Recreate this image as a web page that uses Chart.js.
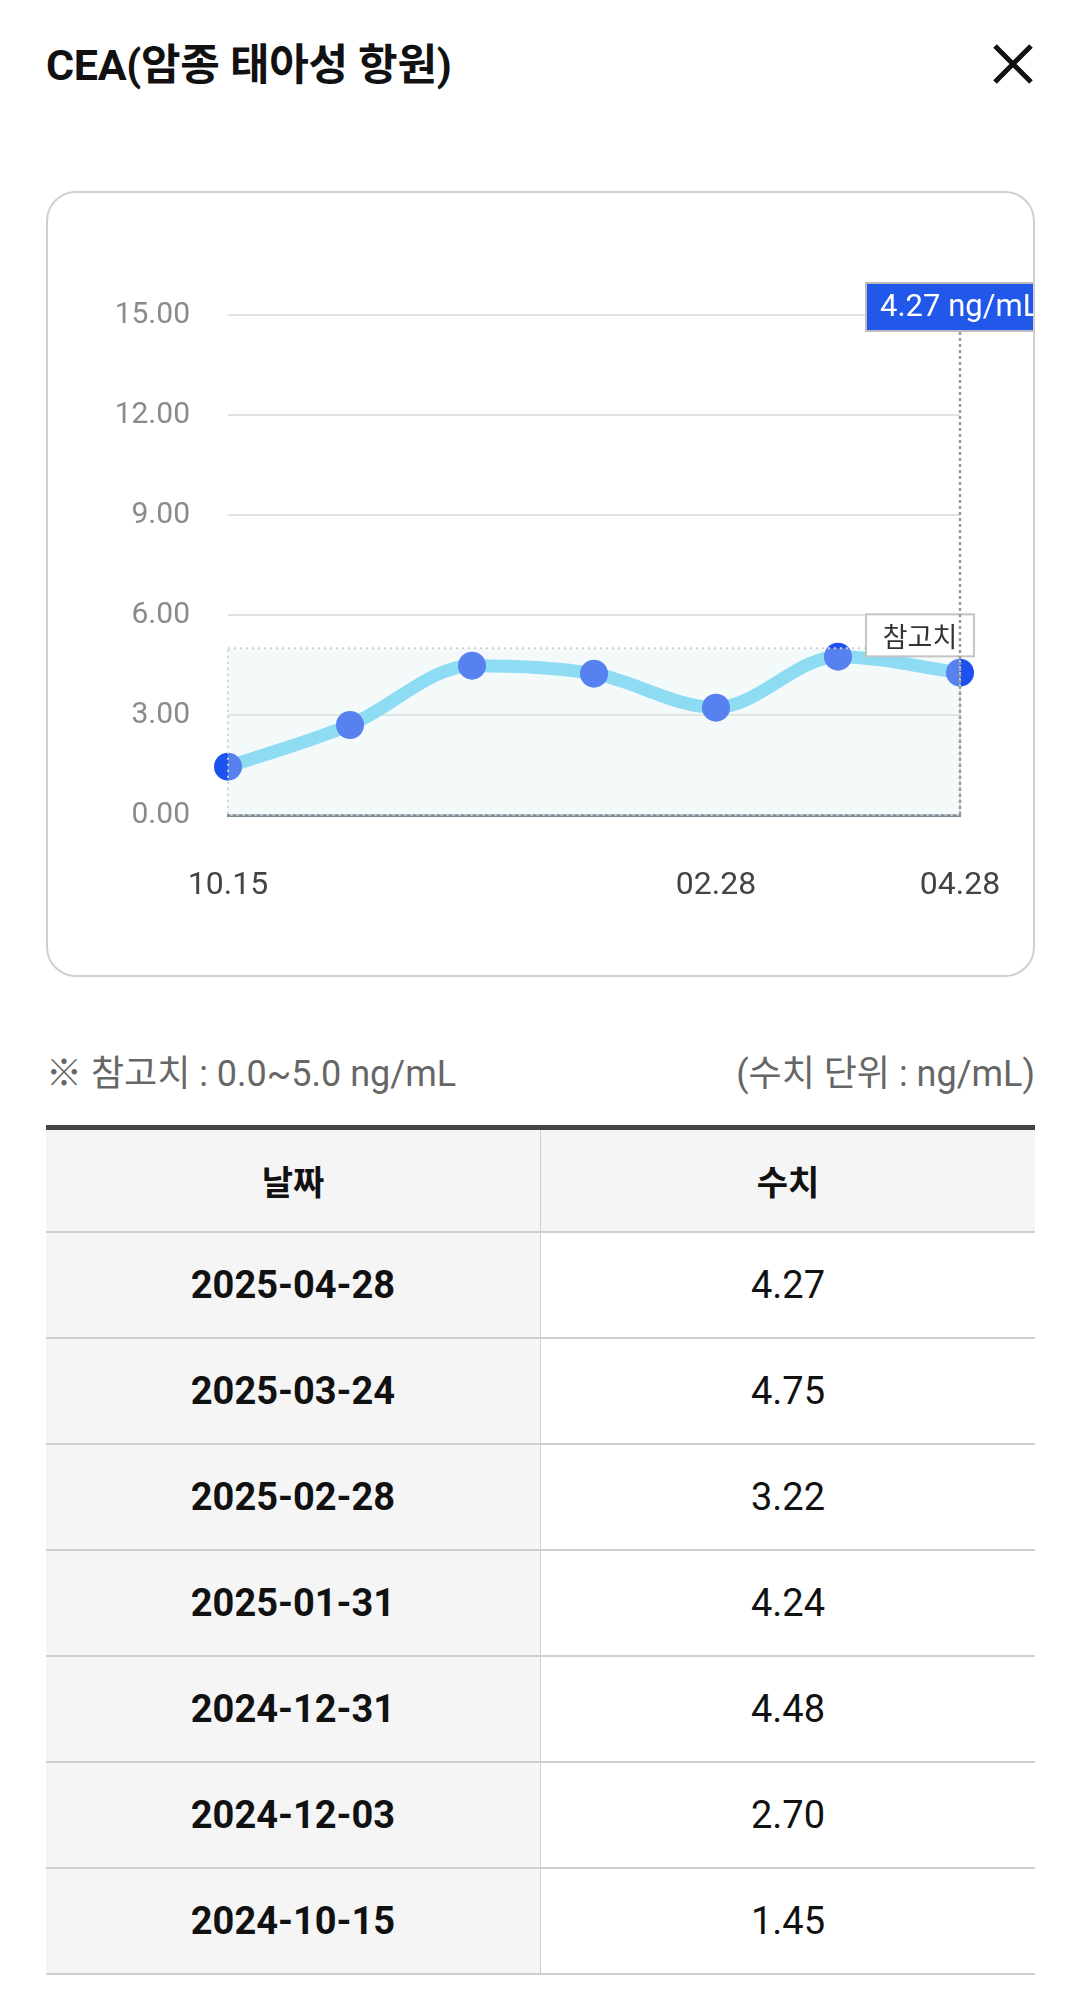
<!DOCTYPE html>
<html lang="ko">
<head>
<meta charset="utf-8">
<script src="https://cdn.jsdelivr.net/npm/chart.js@4.4.1/dist/chart.umd.min.js"></script>
<style>
  html, body { margin: 0; padding: 0; background: #fff; }
  body {
    width: 1080px; height: 1999px; position: relative; overflow: hidden;
    font-family: Roboto, "Noto Sans CJK KR", sans-serif; color: #111;
  }
  .title {
    position: absolute; left: 46px; top: 38px; margin: 0;
    font-size: 43px; font-weight: 700; line-height: 54px; letter-spacing: -0.3px;
  }
  .close { position: absolute; left: 992px; top: 43px; width: 42px; height: 42px; }
  .card {
    position: absolute; left: 46px; top: 191px; width: 989px; height: 786px;
    box-sizing: border-box; border: 2px solid #cfcfcf; border-radius: 30px; overflow: hidden;
  }
  .card canvas { position: absolute; left: 0; top: 0; }
  .note {
    position: absolute; left: 46px; right: 45px; top: 1051px;
    display: flex; justify-content: space-between;
    font-size: 36px; line-height: 46px; color: #666;
  }
  table {
    position: absolute; left: 46px; top: 1125px; width: 989px;
    border-collapse: collapse; table-layout: fixed; border-top: 5px solid #444;
  }
  th, td { text-align: center; border-bottom: 2px solid #cfcfcf; padding: 0; }
  th { height: 101px; background: #f5f5f5; font-size: 34px; font-weight: 700; }
  td { height: 104px; font-size: 38px; }
  td.d { background: #f5f5f5; font-weight: 700; }
  th:first-child, td:first-child { border-right: 1px solid #cfcfcf; }
</style>
</head>
<body>
<h1 class="title">CEA(암종 태아성 항원)</h1>
<svg class="close" viewBox="0 0 42 42"><path d="M3 3 L39 39 M39 3 L3 39" stroke="#111" stroke-width="5" fill="none"/></svg>

<div class="card">
  <canvas id="cea-chart" width="985" height="782" style="width:985px;height:782px"></canvas>
</div>

<div class="note"><span>※ 참고치 : 0.0~5.0 ng/mL</span><span>(수치 단위 : ng/mL)</span></div>

<table id="result-table">
  <thead><tr><th>날짜</th><th>수치</th></tr></thead>
  <tbody></tbody>
</table>

<script>
// test dates, oldest first (as plotted)
const dates = ['2024-10-15', '2024-12-03', '2024-12-31', '2025-01-31', '2025-02-28', '2025-03-24', '2025-04-28'];
const labels = ['10.15', '12.03', '12.31', '01.31', '02.28', '03.24', '04.28'];
const values = [1.45, 2.70, 4.48, 4.24, 3.22, 4.75, 4.27];
const shownTicks = ['10.15', '02.28', '04.28'];
const yTicks = [0, 3, 6, 9, 12, 15];
const refRange = [0.0, 5.0];
const unit = 'ng/mL';

// table (newest first)
const tbody = document.querySelector('#result-table tbody');
for (let i = dates.length - 1; i >= 0; i--) {
    const tr = document.createElement('tr');
    tr.innerHTML = `<td class="d">${dates[i]}</td><td>${values[i].toFixed(2)}</td>`;
    tbody.appendChild(tr);
}

// reference band + labels drawn over the datasets
const refPlugin = {
    id: 'refBand',
    afterDatasetsDraw(chart) {
        const { ctx, chartArea, scales: { x, y } } = chart;
        const top = y.getPixelForValue(refRange[1]);
        const bottom = y.getPixelForValue(refRange[0]);
        const last = values.length - 1;
        const lx = x.getPixelForValue(last);

        ctx.save();
        // band overlay
        ctx.fillStyle = 'rgba(220, 240, 240, 0.3)';
        ctx.fillRect(chartArea.left, top, chartArea.right - chartArea.left, bottom - top);
        ctx.strokeStyle = '#d0d0d0';
        ctx.lineWidth = 2;
        ctx.setLineDash([2, 4]);
        ctx.strokeRect(chartArea.left, top, chartArea.right - chartArea.left, bottom - top);

        // "참고치" tag
        ctx.setLineDash([]);
        const tagR = lx + 14, tagW = 108, tagH = 42, tagB = top + 8;
        ctx.fillStyle = '#fff';
        ctx.fillRect(tagR - tagW, tagB - tagH, tagW, tagH);
        ctx.strokeStyle = '#c4c4c4';
        ctx.strokeRect(tagR - tagW, tagB - tagH, tagW, tagH);
        ctx.fillStyle = '#333';
        ctx.font = '27px "Noto Sans CJK KR", sans-serif';
        ctx.textAlign = 'center';
        ctx.textBaseline = 'middle';
        ctx.fillText('참고치', tagR - tagW / 2, tagB - tagH / 2 + 1);

        // value box for the latest result
        const boxW = 188, boxH = 48, boxT = chartArea.top - 32;
        ctx.fillStyle = '#2158ea';
        ctx.fillRect(lx - boxW / 2, boxT, boxW, boxH);
        ctx.strokeStyle = '#bdbdbd';
        ctx.strokeRect(lx - boxW / 2, boxT, boxW, boxH);
        ctx.fillStyle = '#fff';
        ctx.font = '31px Roboto, sans-serif';
        ctx.textAlign = 'left';
        ctx.fillText(`${values[last].toFixed(2)} ${unit}`, lx - boxW / 2 + 14, boxT + boxH / 2 + 1);

        // dotted guide
        ctx.strokeStyle = '#9a9a9a';
        ctx.lineWidth = 2.5;
        ctx.setLineDash([3, 3]);
        ctx.beginPath();
        ctx.moveTo(lx, boxT + boxH + 1);
        ctx.lineTo(lx, chartArea.bottom);
        ctx.stroke();
        ctx.restore();
    }
};

new Chart(document.getElementById('cea-chart'), {
    type: 'line',
    data: {
        labels: labels,
        datasets: [{
            data: values,
            borderColor: 'rgb(110, 211, 247)',
            borderWidth: 13,
            cubicInterpolationMode: 'monotone',
            fill: false,
            pointRadius: 14,
            pointBackgroundColor: 'rgb(30, 82, 240)',
            pointBorderWidth: 0,
            clip: false
        }]
    },
    options: {
        responsive: false,
        animation: false,
        devicePixelRatio: 1,
        layout: { padding: { left: 0, top: 122, right: 73, bottom: 0 } },
        plugins: { legend: { display: false }, tooltip: { enabled: false } },
        scales: {
            x: {
                offset: false,
                grid: { display: false, drawTicks: false },
                border: { display: true, color: '#7d8d97', width: 3 },
                ticks: {
                    autoSkip: false,
                    maxRotation: 0,
                    padding: 52,
                    color: '#444',
                    font: { family: 'Roboto', size: 32 },
                    callback: function(v) {
                        const l = this.getLabelForValue(v);
                        return shownTicks.includes(l) ? l : '';
                    }
                },
                afterFit(scale) {
                    scale.height = 160;
                    scale.paddingLeft = 0;
                    scale.paddingRight = 0;
                }
            },
            y: {
                min: yTicks[0],
                max: yTicks[yTicks.length - 1],
                afterBuildTicks(scale) {
                    scale.ticks = yTicks.map(v => ({ value: v }));
                },
                grid: { color: '#e3e3e3', lineWidth: 2, drawTicks: false },
                border: { display: false },
                ticks: {
                    padding: 38,
                    color: '#8a8a8a',
                    font: { family: 'Roboto', size: 30 },
                    callback: v => Number(v).toFixed(2)
                },
                afterFit(scale) {
                    scale.width = 180;
                    scale.paddingTop = 0;
                    scale.paddingBottom = 0;
                }
            }
        }
    },
    plugins: [refPlugin]
});
</script>
</body>
</html>
